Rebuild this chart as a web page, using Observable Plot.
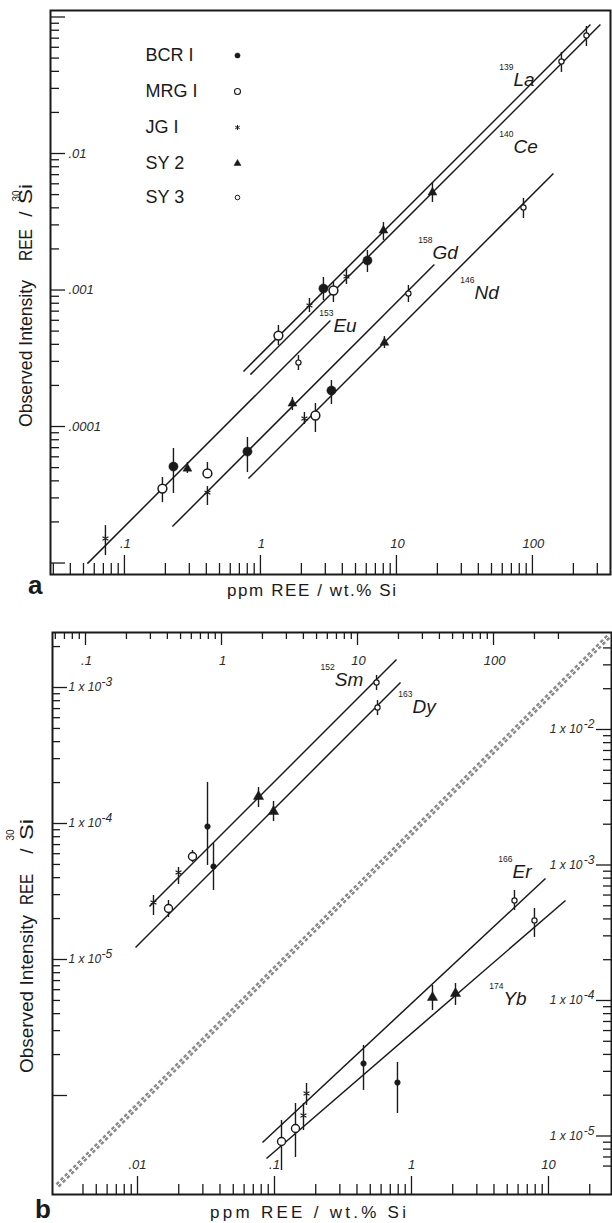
<!DOCTYPE html>
<html><head><meta charset="utf-8">
<script src="https://cdn.jsdelivr.net/npm/d3@7"></script>
<script src="https://cdn.jsdelivr.net/npm/@observablehq/plot@0.6"></script>
<style>
html,body{margin:0;padding:0;background:#fff;}
#root{position:relative;width:612px;height:1223px;overflow:hidden;background:#fff;}
#root svg{position:absolute;left:0;}
</style></head><body><div id="root"></div>
<script>
// ---------------- DATA ----------------
const standards = ["BCR I", "MRG I", "JG I", "SY 2", "SY 3"];

// Panel a: rows in standards order -> [ppm REE / wt.% Si, observed intensity, error low, error high]
const aLa = [[2.905, 1.026e-3, 8.38e-4, 1.235e-3], [1.356, 4.64e-4, 3.92e-4, 5.50e-4], [2.293, 7.70e-4, 6.84e-4, 8.66e-4], [8.025, 2.73e-3, 2.31e-3, 3.12e-3], [163.4, 0.0472, 0.0392, 0.0550]];
const aCe = [[6.12, 1.645e-3, 1.343e-3, 1.948e-3], [3.442, 9.92e-4, 8.10e-4, 1.135e-3], [4.29, 1.256e-3, 1.097e-3, 1.437e-3], [18.4, 5.18e-3, 4.38e-3, 6.13e-3], [249.5, 0.0732, 0.0608, 0.0852]];
const aEu = [[0.2293, 5.09e-5, 3.23e-5, 6.90e-5], [0.1903, 3.51e-5, 2.77e-5, 4.23e-5], [0.0725, 1.512e-5, 1.134e-5, 1.88e-5], [0.2905, 4.92e-5, 4.53e-5, 5.45e-5], [1.903, 2.94e-4, 2.57e-4, 3.31e-4]];
const aGd = [[0.8025, 6.56e-5, 4.60e-5, 8.31e-5], [0.4076, 4.53e-5, 4.16e-5, 5.45e-5], [0.4076, 3.28e-5, 2.64e-5, 3.63e-5], [1.719, 1.474e-4, 1.31e-4, 1.631e-4], [12.25, 9.43e-4, 8.10e-4, 1.079e-3]];
const aNd = [[3.327, 1.835e-4, 1.449e-4, 2.17e-4], [2.537, 1.204e-4, 9.04e-5, 1.474e-4], [2.106, 1.144e-4, 1.034e-4, 1.267e-4], [8.16, 4.12e-4, 3.73e-4, 4.56e-4], [85.9, 4.02e-3, 3.34e-3, 4.68e-3]];
// calibration lines: [element, x1, y1, x2, y2]
const aLines = [["La", 0.75, 2.53e-4, 267, 0.0881], ["Ce", 0.844, 2.40e-4, 316, 0.0881], ["Eu", 0.0534, 9.9e-6, 3.27, 5.98e-4], ["Gd", 0.2254, 1.85e-5, 19.0, 1.54e-3], ["Nd", 0.816, 4.16e-5, 142.6, 7.14e-3]];
// isotope labels: [mass, element, x, y]
const aLabels = [["139", "La", 72.5, 0.0348], ["140", "Ce", 72.5, 0.01125], ["158", "Gd", 18.4, 1.882e-3], ["146", "Nd", 37.45, 9.59e-4], ["153", "Eu", 3.44, 5.5e-4]];

// Panel b, upper-left group (top x axis, left y axis)
const bSm = [[0.789, 9.50e-5, 4.91e-5, 2.002e-4], [0.612, 5.72e-5, 5.17e-5, 6.33e-5], [0.4829, 4.36e-5, 3.56e-5, 4.75e-5], [1.871, 1.579e-4, 1.311e-4, 1.839e-4], [13.8, 1.088e-3, 9.51e-4, 1.225e-3]];
const bDy = [[0.8733, 4.83e-5, 3.22e-5, 7.13e-5], [0.4076, 2.371e-5, 2.037e-5, 2.716e-5], [0.3162, 2.625e-5, 2.107e-5, 2.956e-5], [2.412, 1.225e-4, 1.034e-4, 1.451e-4], [14.03, 7.13e-4, 6.22e-4, 8.02e-4]];
const bUpperLines = [["Sm", 0.2955, 2.453e-5, 19.36, 1.606e-3], ["Dy", 0.2332, 1.225e-5, 20.71, 1.088e-3]];
const bUpperLabels = [["152", "Sm", 6.8, 1.146e-3], ["163", "Dy", 25.38, 7.25e-4]];
// Panel b, lower-right group (bottom x axis, right y axis)
const bEr = [[0.4465, 3.43e-5, 2.17e-5, 4.66e-5], [0.1423, 1.136e-5, 6.94e-6, 1.737e-5], [0.1713, 2.06e-5, 1.68e-5, 2.44e-5], [1.423, 1.052e-4, 8.44e-5, 1.29e-4], [5.646, 5.47e-4, 4.62e-4, 6.48e-4]];
const bYb = [[0.79, 2.48e-5, 1.466e-5, 3.49e-5], [0.1125, 9.11e-6, 5.56e-6, 1.302e-5], [0.1628, 1.417e-5, 1.098e-5, 1.737e-5], [2.095, 1.126e-4, 9.19e-5, 1.335e-4], [7.9, 3.9e-4, 2.92e-4, 4.78e-4]];
const bLowerLines = [["Er", 0.0817, 8.96e-6, 9.508, 7.95e-4], ["Yb", 0.0874, 6.82e-6, 13.31, 5.47e-4]];
const bLowerLabels = [["166", "Er", 5.46, 8.95e-4], ["174", "Yb", 4.69, 1.035e-4]];
const bDiagonal = [[2.606e-3, 4.31e-6, 27.88, 0.0494]];

// axis extents
const aXDomain = [0.0286, 375], aYDomain = [8.24e-6, 0.1116];
const bTopDomain = [0.0572, 737], bLeftDomain = [1.871e-7, 2.538e-3];
const bBottomDomain = [2.396e-3, 28.84], bRightDomain = [3.70e-6, 0.05198];

// tick values and labels
const aXMajor = [0.1, 1, 10, 100], aXMajorText = [".1", "1", "10", "100"];
const aYMajor = [1e-1, 1e-2, 1e-3, 1e-4, 1e-5];
const aYLabelVals = [1e-2, 1e-3, 1e-4], aYLabelText = [".01", ".001", ".0001"];
const bTopMajor = [0.1, 1, 10, 100], bTopText = [".1", "1", "10", "100"];
const bLeftMajor = [1e-3, 1e-4, 1e-5, 1e-6];
const bLeftLabelVals = [1e-3, 1e-4, 1e-5], bLeftExp = ["-3", "-4", "-5"];
const bRightMajor = [1e-2, 1e-3, 1e-4, 1e-5], bRightExp = ["-2", "-3", "-4", "-5"];
const bBottomMajor = [0.01, 0.1, 1, 10], bBottomText = [".01", ".1", "1", "10"];

function mults(e, from = 2, to = 9) { const o = []; for (let m = from; m <= to; m++) o.push(+(m * 10 ** e).toPrecision(3)); return o; }
const aXMinor = [...mults(-2, 3), ...mults(-1), ...mults(0), ...mults(1), ...mults(2, 2, 3)];
const aYMinor = [...mults(-5), ...mults(-4), ...mults(-3), ...mults(-2)];
const bTopMinor = [...mults(-2, 6), ...mults(-1), ...mults(0), ...mults(1), ...mults(2, 2, 3)];
const bLeftMinor = [...mults(-6), ...mults(-5), ...mults(-4), ...mults(-3, 2, 2)];
const bRightMinor = [...mults(-6, 6), ...mults(-5), ...mults(-4), ...mults(-3), ...mults(-2, 2, 4)];
const bBottomMinor = [...mults(-3, 4), ...mults(-2), ...mults(-1), ...mults(0), ...mults(1, 2, 2)];

// ---------------- STYLE ----------------
const FONT = "'Liberation Sans', Arial, Helvetica, sans-serif";
const INK = "#1a1a1a";
const W = 612;
const A = {h: 610, ml: 50, mr: 2, mt: 10, mb: 36};
const B = {h: 613, ml: 52, mr: 1, mt: 22, mb: 29};
const AFW = W - A.ml - A.mr, AFH = A.h - A.mt - A.mb;
const BFW = W - B.ml - B.mr, BFH = B.h - B.mt - B.mb;

const styleA = {
  "BCR I": {symbol: "circle", r: 4.6, fill: INK, stroke: INK, strokeWidth: 0.5},
  "MRG I": {symbol: "circle", r: 4.4, fill: "white", stroke: INK, strokeWidth: 1.5},
  "JG I": {symbol: "asterisk", r: 3.2, fill: "none", stroke: INK, strokeWidth: 1.1},
  "SY 2": {symbol: "triangle", r: 3.3, fill: INK, stroke: INK, strokeWidth: 0.5},
  "SY 3": {symbol: "circle", r: 2.6, fill: "white", stroke: INK, strokeWidth: 1.2}
};
const styleB = {...styleA,
  "BCR I": {symbol: "circle", r: 2.8, fill: INK, stroke: INK, strokeWidth: 0.5},
  "MRG I": {symbol: "circle", r: 4.0, fill: "white", stroke: INK, strokeWidth: 1.4},
  "SY 2": {symbol: "triangle", r: 3.8, fill: INK, stroke: INK, strokeWidth: 0.5}
};
const styleLegend = {
  "BCR I": {symbol: "circle", r: 2.6, fill: INK, stroke: INK, strokeWidth: 0.5},
  "MRG I": {symbol: "circle", r: 3.0, fill: "white", stroke: INK, strokeWidth: 1.1},
  "JG I": {symbol: "asterisk", r: 2.4, fill: "none", stroke: INK, strokeWidth: 1},
  "SY 2": {symbol: "triangle", r: 2.6, fill: INK, stroke: INK, strokeWidth: 0.5},
  "SY 3": {symbol: "circle", r: 2.3, fill: "white", stroke: INK, strokeWidth: 1}
};
const legendDy = [45, 81, 117, 153, 187];

// ---------------- HELPERS ----------------
const toPoints = (el, rows) => rows.map((r, i) => ({el, std: standards[i], C: r[0], I: r[1], lo: r[2], hi: r[3]}));
const zip = (vals, texts) => vals.map((v, i) => ({v, t: texts[i]}));
const tickStyle = {stroke: INK, strokeWidth: 1.3};
const labStyle = {fontFamily: FONT, fontStyle: "italic", fontSize: 13, fill: "#2a2a2a"};

function ticksBottom(vals, len, FH) { return Plot.tickX(vals, {x: d => d, insetTop: FH - len, ...tickStyle}); }
function ticksTop(vals, len, FH) { return Plot.tickX(vals, {x: d => d, insetBottom: FH - len, ...tickStyle}); }
function ticksLeft(vals, len, FW) { return Plot.tickY(vals, {y: d => d, insetRight: FW - len, ...tickStyle}); }
function ticksRight(vals, len, FW) { return Plot.tickY(vals, {y: d => d, insetLeft: FW - len, ...tickStyle}); }

function dataMarks(lines, points, style) {
  return [
    Plot.link(lines, {x1: d => d[1], y1: d => d[2], x2: d => d[3], y2: d => d[4], stroke: INK, strokeWidth: 1.5}),
    Plot.ruleX(points, {x: "C", y1: "lo", y2: "hi", stroke: INK, strokeWidth: 1.4}),
    ...standards.map(s => Plot.dot(points.filter(p => p.std === s), {x: "C", y: "I", ...style[s]}))
  ];
}
function isotopeLabels(rows) {
  return [
    Plot.text(rows, {x: d => d[2], y: d => d[3], text: d => d[1], textAnchor: "start", fontSize: 19, fontStyle: "italic", fontFamily: FONT, fill: INK}),
    Plot.text(rows, {x: d => d[2], y: d => d[3], text: d => d[0], textAnchor: "end", dy: -12, fontSize: 8.5, fontFamily: FONT, fill: INK})
  ];
}
function svgText(svg, x, y, str, o = {}) {
  const t = d3.select(svg).append("text")
    .attr("transform", `translate(${x},${y})` + (o.rotate ? ` rotate(${o.rotate})` : ""))
    .attr("font-family", FONT).attr("font-size", o.size || 16)
    .attr("font-weight", o.weight || "normal").attr("fill", INK)
    .attr("text-anchor", o.anchor || "start").text(str);
  if (o.length) t.attr("textLength", o.length).attr("lengthAdjust", o.adjust || "spacingAndGlyphs");
  return t;
}

const root = document.getElementById("root");

// ---------------- PANEL a ----------------
const aPoints = [["La", aLa], ["Ce", aCe], ["Eu", aEu], ["Gd", aGd], ["Nd", aNd]].flatMap(([e, r]) => toPoints(e, r));
const svgA = Plot.plot({
  width: W, height: A.h, marginLeft: A.ml, marginRight: A.mr, marginTop: A.mt, marginBottom: A.mb,
  style: {background: "transparent", overflow: "visible"},
  x: {type: "log", domain: aXDomain, axis: null},
  y: {type: "log", domain: aYDomain, axis: null},
  marks: [
    Plot.frame({stroke: INK, strokeWidth: 2}),
    ticksBottom(aXMinor, 11, AFH), ticksBottom(aXMajor, 19, AFH),
    ticksLeft(aYMinor, 9, AFW), ticksLeft(aYMajor, 15, AFW),
    Plot.text(zip(aXMajor, aXMajorText), {x: "v", text: "t", frameAnchor: "bottom", dy: -27, dx: 1, ...labStyle}),
    Plot.text(zip(aYLabelVals, aYLabelText), {y: "v", text: "t", frameAnchor: "left", dx: 18, textAnchor: "start", ...labStyle}),
    ...dataMarks(aLines, aPoints, styleA),
    ...isotopeLabels(aLabels),
    ...standards.flatMap((s, i) => [
      Plot.text([s], {frameAnchor: "top-left", dx: 95, dy: legendDy[i], text: d => d, textAnchor: "start", lineAnchor: "middle", fontSize: 18, fontFamily: FONT, fill: INK}),
      Plot.dot([s], {frameAnchor: "top-left", dx: 187, dy: legendDy[i], ...styleLegend[s]})
    ])
  ]
});
svgA.style.top = "0px";
root.appendChild(svgA);
svgText(svgA, 32, 427, "Observed Intensity", {rotate: -90, size: 19, length: 147});
svgText(svgA, 32, 261, "REE", {rotate: -90, size: 19, length: 32});
svgText(svgA, 32, 214, "/", {rotate: -90, size: 19, anchor: "middle"});
svgText(svgA, 20, 196, "30", {rotate: -90, size: 10, anchor: "middle"});
svgText(svgA, 32, 204, "Si", {rotate: -90, size: 19, length: 20});
svgText(svgA, 227, 596, "ppm REE / wt.% Si", {size: 17, length: 169, adjust: "spacing"});
svgText(svgA, 28, 594, "a", {size: 26, weight: "bold"});

// ---------------- PANEL b (two overlaid coordinate systems) ----------------
const bUpperPoints = [["Sm", bSm], ["Dy", bDy]].flatMap(([e, r]) => toPoints(e, r));
const bLowerPoints = [["Er", bEr], ["Yb", bYb]].flatMap(([e, r]) => toPoints(e, r));
const baseB = {width: W, height: B.h, marginLeft: B.ml, marginRight: B.mr, marginTop: B.mt, marginBottom: B.mb,
  style: {background: "transparent", overflow: "visible"}};

const svgB1 = Plot.plot({
  ...baseB,
  x: {type: "log", domain: bTopDomain, axis: null},
  y: {type: "log", domain: bLeftDomain, axis: null},
  marks: [
    Plot.frame({stroke: INK, strokeWidth: 2}),
    ticksTop(bTopMinor, 7, BFH), ticksTop(bTopMajor, 13, BFH),
    ticksLeft(bLeftMinor, 8, BFW), ticksLeft(bLeftMajor, 15, BFW),
    Plot.text(zip(bTopMajor, bTopText), {x: "v", text: "t", frameAnchor: "top", dy: 23, dx: 1, ...labStyle}),
    Plot.text(bLeftLabelVals, {y: d => d, text: () => "1 x 10", frameAnchor: "left", dx: 16, textAnchor: "start", ...labStyle, fontSize: 12}),
    Plot.text(zip(bLeftLabelVals, bLeftExp), {y: "v", text: "t", frameAnchor: "left", dx: 49, dy: -5, textAnchor: "start", ...labStyle, fontSize: 12}),
    ...dataMarks(bUpperLines, bUpperPoints, styleB),
    ...isotopeLabels(bUpperLabels)
  ]
});
const svgB2 = Plot.plot({
  ...baseB,
  x: {type: "log", domain: bBottomDomain, axis: null},
  y: {type: "log", domain: bRightDomain, axis: null},
  marks: [
    ticksBottom(bBottomMinor, 10, BFH), ticksBottom(bBottomMajor, 18, BFH),
    ticksRight(bRightMinor, 8, BFW), ticksRight(bRightMajor, 15, BFW),
    Plot.text(zip(bBottomMajor, bBottomText), {x: "v", text: "t", frameAnchor: "bottom", dy: -26, ...labStyle}),
    Plot.text(bRightMajor, {y: d => d, text: () => "1 x 10", frameAnchor: "right", dx: -29, textAnchor: "end", ...labStyle, fontSize: 12}),
    Plot.text(zip(bRightMajor, bRightExp), {y: "v", text: "t", frameAnchor: "right", dx: -17, dy: -5, textAnchor: "end", ...labStyle, fontSize: 12}),
    Plot.link(bDiagonal, {x1: d => d[0], y1: d => d[1], x2: d => d[2], y2: d => d[3], stroke: "#8a8a8a", strokeWidth: 5.5, strokeDasharray: "3.5,2.5"}),
    Plot.link(bDiagonal, {x1: d => d[0], y1: d => d[1], x2: d => d[2], y2: d => d[3], stroke: "white", strokeWidth: 1}),
    ...dataMarks(bLowerLines, bLowerPoints, styleB),
    ...isotopeLabels(bLowerLabels)
  ]
});
svgB1.style.top = "610px";
svgB2.style.top = "610px";
root.appendChild(svgB1);
root.appendChild(svgB2);
svgText(svgB1, 33, 463, "Observed Intensity", {rotate: -90, size: 19, length: 158});
svgText(svgB1, 33, 295, "REE", {rotate: -90, size: 19, length: 31});
svgText(svgB1, 33, 241, "/", {rotate: -90, size: 19, anchor: "middle"});
svgText(svgB1, 14, 225, "30", {rotate: -90, size: 10, anchor: "middle"});
svgText(svgB1, 33, 230, "Si", {rotate: -90, size: 19, length: 21});
svgText(svgB1, 210, 608, "ppm REE / wt.% Si", {size: 17, length: 196, adjust: "spacing"});
svgText(svgB1, 35, 608, "b", {size: 26, weight: "bold"});
</script></body></html>
